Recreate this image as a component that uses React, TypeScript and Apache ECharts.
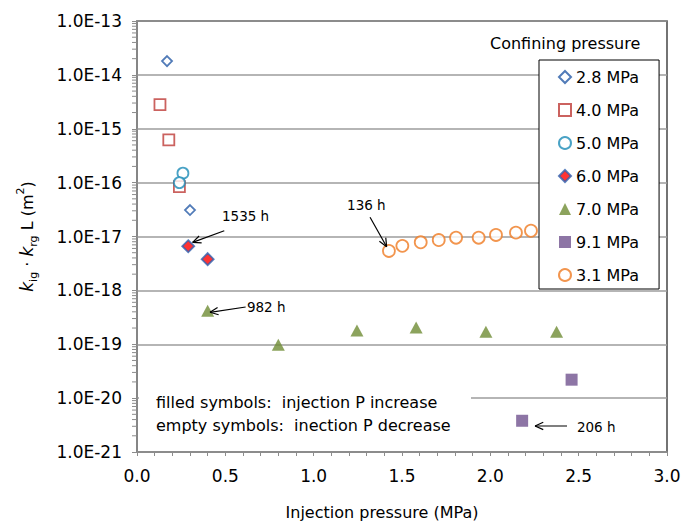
import React, { useEffect, useRef } from "react";
import * as echarts from "echarts";

const FONT = "DejaVu Sans";

// Confining-pressure series: [injection pressure (MPa), k_ig·k_rg·L (m²)]
const seriesNames = ["2.8 MPa", "4.0 MPa", "5.0 MPa", "6.0 MPa", "7.0 MPa", "9.1 MPa", "3.1 MPa"];
const conf28 = [[0.17, 1.8e-14], [0.30, 3.1e-17]];
const conf40 = [[0.13, 2.8e-15], [0.18, 6.2e-16], [0.24, 8.4e-17]];
const conf50 = [[0.26, 1.5e-16], [0.24, 1.0e-16]];
const conf60 = [[0.29, 6.6e-18], [0.40, 3.8e-18]];
const conf70 = [[0.40, 4.2e-19], [0.80, 9.8e-20], [1.245, 1.8e-19], [1.58, 2.05e-19], [1.975, 1.7e-19], [2.375, 1.7e-19]];
const conf91 = [[2.46, 2.2e-20], [2.18, 3.8e-21]];
const conf31 = [
  [1.426, 5.4e-18], [1.502, 6.7e-18], [1.606, 7.8e-18], [1.708, 8.6e-18], [1.806, 9.5e-18],
  [1.934, 9.5e-18], [2.032, 1.07e-17], [2.145, 1.18e-17], [2.23, 1.28e-17],
];

// Axis ranges and tick structure (y is plotted on a decade scale)
const xTicks = [0, 0.5, 1, 1.5, 2, 2.5, 3];
const yMinExp = -21;
const yMaxExp = -13;
const yDecades = [-21, -20, -19, -18, -17, -16, -15, -14];
const minorMultipliers = [2, 3, 4, 5, 6, 7, 8, 9];

// Elapsed-time notes: arrow tail -> head, and where each label starts
const noteTexts = ["1535 h", "136 h", "982 h", "206 h"];
const noteArrows = [
  [0.494, 1.28e-17, 0.315, 7.8e-18],
  [1.319, 2.27e-17, 1.413, 6.47e-18],
  [0.615, 4.91e-19, 0.413, 3.92e-19],
  [2.434, 3.04e-21, 2.253, 3.04e-21],
];
const noteAnchors = [
  [0.481, 2.43e-17],
  [1.189, 3.85e-17],
  [0.622, 4.98e-19],
  [2.49, 2.95e-21],
];

const legendTitle = "Confining pressure";
const noteLines = ["filled symbols:  injection P increase", "empty symbols:  inection P decrease"];

// permeability values go onto the axis as powers of ten
const lg = (v: number) => Math.log10(v);
const toDecade = (pts: number[][]) => pts.map(([x, k]) => [x, lg(k)]);

export default function App() {
  const ref = useRef<HTMLDivElement>(null);

  useEffect(() => {
    if (!ref.current) return;
    const chart = echarts.init(ref.current, undefined, { renderer: "svg" });

    const minorTickValues: number[][] = [];
    yDecades.forEach((d) => {
      minorMultipliers.forEach((m) => minorTickValues.push([0, d + lg(m)]));
    });

    const arrowData = noteArrows.map(([x1, k1, x2, k2]) => [x1, lg(k1), x2, lg(k2)]);
    const anchorData = noteAnchors.map(([x, k]) => [x, lg(k)]);

    const hollow = (color: string) => ({ color: "#ffffff", borderColor: color, borderWidth: 1.8 });

    const option: any = {
      animation: false,
      backgroundColor: "#ffffff",
      textStyle: { fontFamily: FONT },
      grid: {
        left: 137,
        top: 21,
        width: 530,
        height: 431,
        show: true,
        borderColor: "#2a2a2a",
        borderWidth: 1.3,
        backgroundColor: "transparent",
      },
      legend: {
        data: seriesNames,
        orient: "vertical",
        left: 539,
        top: 60,
        itemWidth: 12,
        itemHeight: 12,
        itemGap: 13,
        itemTextGap: 5,
        padding: [7, 20, 4, 19],
        backgroundColor: "#ffffff",
        borderColor: "#000000",
        borderWidth: 1,
        borderRadius: 0,
        selectedMode: false,
        textStyle: { fontFamily: FONT, fontSize: 16, color: "#000000", lineHeight: 20 },
        z: 8,
      },
      xAxis: {
        type: "value",
        min: 0,
        max: 3,
        interval: 0.5,
        name: "Injection pressure (MPa)",
        nameLocation: "middle",
        nameGap: 52,
        nameTextStyle: { fontFamily: FONT, fontSize: 16, color: "#000000", padding: [0, 40, 0, 0] },
        axisLine: { show: true, onZero: false, lineStyle: { color: "#8c8c8c", width: 1.5 } },
        axisTick: { show: true, length: 4, lineStyle: { color: "#8c8c8c", width: 1 } },
        minorTick: { show: true, splitNumber: 5, length: 4, lineStyle: { color: "#8c8c8c", width: 1 } },
        splitLine: { show: false },
        axisLabel: {
          fontFamily: FONT,
          fontSize: 17,
          color: "#000000",
          margin: 15,
          formatter: (v: number) => (xTicks.includes(v) ? v.toFixed(1) : ""),
        },
      },
      yAxis: {
        type: "value",
        min: yMinExp,
        max: yMaxExp,
        interval: 1,
        name: "{i|k}{s|ig}{n| · }{i|k}{s|rg}{n| L (m}{p|2}{n|)}",
        nameLocation: "middle",
        nameRotate: 90,
        nameGap: 98,
        nameTextStyle: {
          fontFamily: FONT,
          fontSize: 16,
          color: "#000000",
          rich: {
            i: { fontFamily: FONT, fontStyle: "italic", fontSize: 17, lineHeight: 24, color: "#000000" },
            n: { fontFamily: FONT, fontSize: 16, lineHeight: 24, color: "#000000" },
            s: { fontFamily: FONT, fontSize: 11, lineHeight: 11, verticalAlign: "bottom", color: "#000000" },
            p: { fontFamily: FONT, fontSize: 11, lineHeight: 11, verticalAlign: "top", color: "#000000" },
          },
        },
        axisLine: { show: true, lineStyle: { color: "#8c8c8c", width: 1.5 } },
        axisTick: { show: true, length: 5, lineStyle: { color: "#8c8c8c", width: 1 } },
        splitLine: { show: true, lineStyle: { color: "#9c9c9c", width: 1.5 } },
        axisLabel: {
          fontFamily: FONT,
          fontSize: 17,
          color: "#000000",
          margin: 15,
          formatter: (v: number) => "1.0E" + Math.round(v),
        },
      },
      graphic: [
        {
          type: "text",
          left: 490,
          top: 35,
          z: 100,
          style: { text: legendTitle, fontFamily: FONT, fontSize: 16, fill: "#000000" },
        },
        {
          type: "rect",
          left: 139,
          top: 389,
          z: 100,
          shape: { x: 0, y: 0, width: 332, height: 49 },
          style: { fill: "#ffffff" },
        },
        {
          type: "text",
          left: 156,
          top: 394,
          z: 101,
          style: { text: noteLines[0], fontFamily: FONT, fontSize: 16, fill: "#000000" },
        },
        {
          type: "text",
          left: 156,
          top: 417,
          z: 101,
          style: { text: noteLines[1], fontFamily: FONT, fontSize: 16, fill: "#000000" },
        },
      ],
      series: [
        {
          name: "yMinorTicks",
          type: "custom",
          silent: true,
          clip: false,
          z: 3,
          data: minorTickValues,
          renderItem: (_params: any, api: any) => {
            const p = api.coord([0, api.value(1)]);
            return {
              type: "line",
              shape: { x1: p[0] - 5, y1: p[1], x2: p[0], y2: p[1] },
              style: { stroke: "#8c8c8c", lineWidth: 1 },
            };
          },
        },
        {
          name: seriesNames[0],
          type: "scatter",
          symbol: "diamond",
          symbolSize: 10,
          data: toDecade(conf28),
          itemStyle: hollow("#255aa6"),
          z: 4,
        },
        {
          name: seriesNames[1],
          type: "scatter",
          symbol: "rect",
          symbolSize: 11,
          data: toDecade(conf40),
          itemStyle: hollow("#be3b37"),
          z: 4,
        },
        {
          name: seriesNames[2],
          type: "scatter",
          symbol: "circle",
          symbolSize: 11,
          data: toDecade(conf50),
          itemStyle: hollow("#1b8bb6"),
          z: 4,
        },
        {
          name: seriesNames[3],
          type: "scatter",
          symbol: "diamond",
          symbolSize: 12,
          data: toDecade(conf60),
          itemStyle: { color: "#ff0000", borderColor: "#2f62b0", borderWidth: 1.8 },
          z: 4,
        },
        {
          name: seriesNames[4],
          type: "scatter",
          symbol: "triangle",
          symbolSize: [13, 12],
          data: toDecade(conf70),
          itemStyle: { color: "#6f8c35" },
          z: 4,
        },
        {
          name: seriesNames[5],
          type: "scatter",
          symbol: "rect",
          symbolSize: 12,
          data: toDecade(conf91),
          itemStyle: { color: "#70528f" },
          z: 4,
        },
        {
          name: seriesNames[6],
          type: "scatter",
          symbol: "circle",
          symbolSize: 12,
          data: toDecade(conf31),
          itemStyle: hollow("#ef7a22"),
          z: 4,
        },
        {
          name: "notes",
          type: "custom",
          silent: true,
          clip: false,
          z: 5,
          data: arrowData,
          encode: { x: [0, 2], y: [1, 3] },
          renderItem: (params: any, api: any) => {
            const a = api.coord([api.value(0), api.value(1)]);
            const b = api.coord([api.value(2), api.value(3)]);
            const ang = Math.atan2(b[1] - a[1], b[0] - a[0]);
            const len = 9;
            const spread = 0.42;
            const h1 = [b[0] - len * Math.cos(ang - spread), b[1] - len * Math.sin(ang - spread)];
            const h2 = [b[0] - len * Math.cos(ang + spread), b[1] - len * Math.sin(ang + spread)];
            const t = api.coord(anchorData[params.dataIndex]);
            const stroke = { stroke: "#000000", lineWidth: 1.2 };
            return {
              type: "group",
              children: [
                { type: "line", shape: { x1: a[0], y1: a[1], x2: b[0], y2: b[1] }, style: stroke },
                { type: "line", shape: { x1: h1[0], y1: h1[1], x2: b[0], y2: b[1] }, style: stroke },
                { type: "line", shape: { x1: h2[0], y1: h2[1], x2: b[0], y2: b[1] }, style: stroke },
                {
                  type: "text",
                  x: t[0],
                  y: t[1],
                  style: {
                    text: noteTexts[params.dataIndex],
                    fontFamily: FONT,
                    fontSize: 13.5,
                    fill: "#000000",
                    align: "left",
                    verticalAlign: "middle",
                  },
                },
              ],
            };
          },
        },
      ],
    };

    chart.setOption(option);
    return () => chart.dispose();
  }, []);

  return (
    <div
      ref={ref}
      style={{ position: "absolute", left: 0, top: 0, width: 692, height: 526, background: "#ffffff" }}
    />
  );
}
